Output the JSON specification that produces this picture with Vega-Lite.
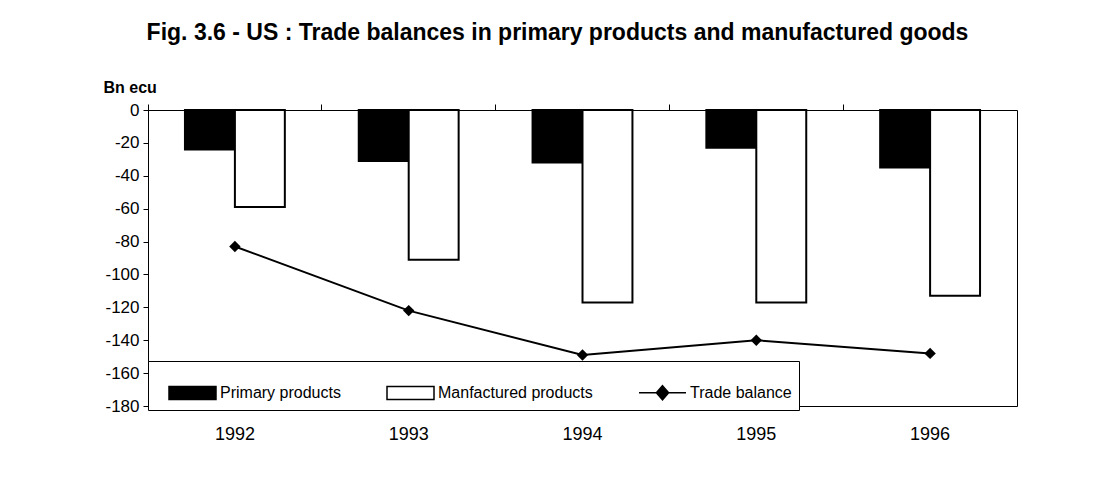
{
  "$schema": "https://vega.github.io/schema/vega-lite/v6.json",
  "autosize": {"type": "none"},
  "padding": {"left": 148, "top": 110, "right": 96, "bottom": 96},
  "width": 869,
  "height": 296,
  "background": "white",
  "title": {
    "text": "Fig. 3.6 - US : Trade balances in primary products and manufactured goods",
    "font": "Liberation Sans",
    "fontSize": 23,
    "fontWeight": "bold",
    "color": "black",
    "anchor": "middle",
    "frame": "group",
    "dx": -25,
    "offset": 34
  },
  "config": {
    "view": {"stroke": "black", "strokeWidth": 1},
    "axis": {
      "labelFont": "Liberation Sans",
      "titleFont": "Liberation Sans",
      "labelColor": "black",
      "titleColor": "black",
      "tickColor": "black",
      "domainColor": "black",
      "grid": false
    },
    "axisY": {
      "labelOverlap": false,
      "labelBound": false,
      "ticks": true,
      "tickSize": 5,
      "tickWidth": 1,
      "domain": true
    },
    "legend": {"labelFont": "Liberation Sans"}
  },
  "encoding": {
    "y": {
      "field": "value",
      "type": "quantitative",
      "scale": {"domain": [-180, 0], "nice": false},
      "axis": {
        "values": [0, -20, -40, -60, -80, -100, -120, -140, -160, -180],
        "labelExpr": "'' + datum.value",
        "labelOverlap": false,
        "labelFontSize": 17,
        "labelPadding": 4,
        "title": "Bn ecu",
        "titleFontSize": 16,
        "titleFontWeight": "bold",
        "titleAngle": 0,
        "titleAlign": "left",
        "titleBaseline": "alphabetic",
        "titleX": -45,
        "titleY": -18
      }
    }
  },
  "layer": [
    {
      "data": {
        "values": [
          {"year": "1992", "series": "Primary products", "value": -24},
          {"year": "1992", "series": "Manfactured products", "value": -59},
          {"year": "1993", "series": "Primary products", "value": -31},
          {"year": "1993", "series": "Manfactured products", "value": -91},
          {"year": "1994", "series": "Primary products", "value": -32},
          {"year": "1994", "series": "Manfactured products", "value": -117},
          {"year": "1995", "series": "Primary products", "value": -23},
          {"year": "1995", "series": "Manfactured products", "value": -117},
          {"year": "1996", "series": "Primary products", "value": -35},
          {"year": "1996", "series": "Manfactured products", "value": -113}
        ]
      },
      "mark": {"type": "bar", "stroke": "black", "strokeWidth": 2},
      "encoding": {
        "x": {
          "field": "year",
          "type": "nominal",
          "scale": {"paddingInner": 0, "paddingOuter": 0},
          "axis": {
            "orient": "bottom",
            "title": null,
            "labelAngle": 0,
            "labelFontSize": 18,
            "labelPadding": 19,
            "ticks": false,
            "domain": false
          }
        },
        "xOffset": {
          "field": "series",
          "type": "nominal",
          "sort": ["Primary products", "Manfactured products"],
          "scale": {"paddingInner": 0, "paddingOuter": 0.74}
        },
        "fill": {
          "field": "series",
          "type": "nominal",
          "scale": {
            "domain": ["Primary products", "Manfactured products", "Trade balance"],
            "range": ["black", "white", "black"]
          },
          "legend": {
            "title": null,
            "orient": "none",
            "legendX": 0,
            "legendY": 251,
            "direction": "horizontal",
            "columns": 3,
            "columnPadding": 32,
            "padding": 7,
            "strokeColor": "black",
            "fillColor": "white",
            "labelFontSize": 16,
            "labelColor": "black",
            "labelOffset": 3,
            "labelLimit": 300,
            "symbolSize": 2209,
            "symbolOffset": 13,
            "symbolStrokeColor": "black",
            "symbolStrokeWidth": 1.5,
            "symbolType": "M-1,-0.28H1V0.28H-1Z",
            "encode": {
              "symbols": {
                "update": {
                  "shape": {"signal": "datum.label === 'Trade balance' ? 'M-1,0H1M0,-0.3L0.26,0L0,0.3L-0.26,0Z' : 'M-1,-0.28H1V0.28H-1Z'"},
                  "stroke": {"value": "black"},
                  "strokeWidth": {"value": 1.5}
                }
              }
            }
          }
        }
      }
    },
    {
      "data": {
        "values": [
          {"year": "1992", "value": -83},
          {"year": "1993", "value": -122},
          {"year": "1994", "value": -149},
          {"year": "1995", "value": -140},
          {"year": "1996", "value": -148}
        ]
      },
      "mark": {
        "type": "line",
        "color": "black",
        "strokeWidth": 2,
        "point": {"shape": "diamond", "size": 130, "filled": true, "color": "black"}
      },
      "encoding": {
        "x": {
          "field": "year",
          "type": "nominal",
          "axis": {
            "orient": "top",
            "title": null,
            "labels": false,
            "domain": false,
            "ticks": true,
            "tickSize": 6,
            "bandPosition": 0
          }
        }
      }
    }
  ],
  "resolve": {"axis": {"x": "independent"}}
}
